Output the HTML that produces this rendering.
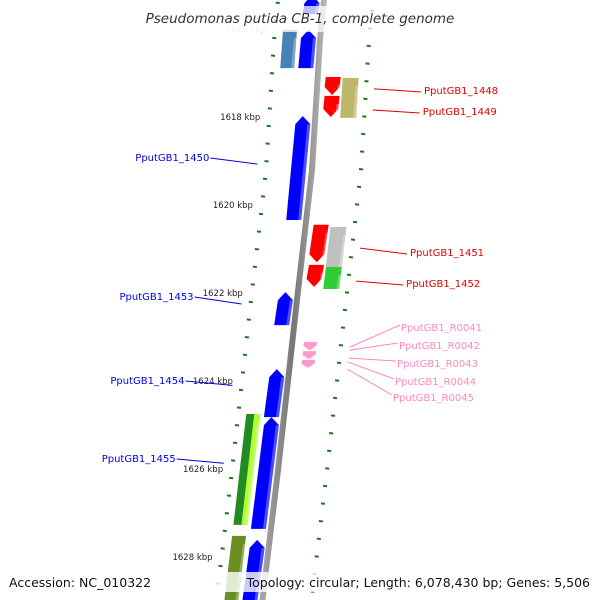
<!DOCTYPE html>
<html><head><meta charset="utf-8"><style>
html,body{margin:0;padding:0;background:#fff;}
svg{display:block;font-family:"DejaVu Sans","Liberation Sans",sans-serif;}
</style></head><body>
<svg id="map" width="600" height="600" viewBox="0 0 600 600">
<defs>
<linearGradient id="bb" x1="0" x2="1"><stop offset="0" stop-color="#aaa"/><stop offset="0.5" stop-color="#777"/><stop offset="1" stop-color="#bbb"/></linearGradient>
</defs>
<g id="ticks"></g>
<g id="genes"></g>
<g id="labels"></g>
<rect x="140" y="6" width="330" height="26" fill="#fff" opacity="0.75"/>
<text x="300" y="23" text-anchor="middle" font-size="13.5" font-style="italic" fill="#333">Pseudomonas putida CB-1, complete genome</text>
<rect x="0" y="572" width="600" height="20" fill="#fff" opacity="0.8"/>
<text x="9" y="587" font-size="12.5" fill="#111">Accession: NC_010322</text>
<text x="590" y="587" text-anchor="end" font-size="12.5" fill="#111">Topology: circular; Length: 6,078,430 bp; Genes: 5,506</text>
</svg>
<script>
const majorTicks = [1616, 1618, 1620, 1622, 1624, 1626, 1628];
const tickLabels = ["1616 kbp","1618 kbp","1620 kbp","1622 kbp","1624 kbp","1626 kbp","1628 kbp"];
const geneStart = [1615.23, 1616.02, 1616.02, 1617.09, 1617.52, 1617.11, 1617.98, 1620.45, 1620.5, 1621.36, 1621.41, 1621.98, 1623.11, 1623.32, 1623.52, 1623.73, 1624.82, 1624.75, 1624.75, 1627.52, 1627.61];
const geneEnd   = [1615.66, 1616.89, 1616.89, 1617.5, 1618.0, 1618.02, 1620.34, 1621.3, 1621.43, 1621.86, 1621.91, 1622.73, 1623.3, 1623.5, 1623.7, 1624.82, 1627.36, 1627.27, 1627.27, 1629.1, 1629.1];
const geneTrack = ["L1","L1","L2","R1","R1","R2","L1","R1","R2","R1","R2","L1","P","P","P","L1","L1","L2","L2b","L2","L1"];
const geneColor = ["#0000ff","#0000ff","#4682b4","#ff0000","#ff0000","#bdb76b","#0000ff","#ff0000","#c0c0c0","#ff0000","#32cd32","#0000ff","#ff99cc","#ff99cc","#ff99cc","#0000ff","#0000ff","#228b22","#adff2f","#6b8e23","#0000ff"];
const geneDir   = [1,1,0,-1,-1,0,1,-1,0,-1,0,1,-1,-1,-1,1,1,0,0,0,1];
const labelNames = ["PputGB1_1448","PputGB1_1449","PputGB1_1450","PputGB1_1451","PputGB1_1452","PputGB1_1453","PputGB1_R0041","PputGB1_R0042","PputGB1_R0043","PputGB1_R0044","PputGB1_R0045","PputGB1_1454","PputGB1_1455"];
const labelKbp = [1617.36, 1617.84, 1619.07, 1620.98, 1621.73, 1622.25, 1623.23, 1623.3, 1623.48, 1623.57, 1623.73, 1624.1, 1625.87];
const labelSide = ["R","R","L","R","R","L","P","P","P","P","P","L","L"];
const labelTextY = [91,112,158,253,284,297,328,346,364,382,398,381,459];

const NS='http://www.w3.org/2000/svg';
function y(k){return 29+(k-1616)*44;}
const BY=[-20,40,170,300,470,620], BX=[326,320,312,297,278,260];
function bx(yy){
  for(let i=0;i<BY.length-1;i++){ if(yy<=BY[i+1]||i===BY.length-2){const t=(yy-BY[i])/(BY[i+1]-BY[i]);return BX[i]+t*(BX[i+1]-BX[i]);} }
}
function mk(tag,attrs,parent){const e=document.createElementNS(NS,tag);for(const a in attrs)e.setAttribute(a,attrs[a]);parent.appendChild(e);return e;}
const tg=document.getElementById('ticks'),gg=document.getElementById('genes'),lg=document.getElementById('labels');

// backbone
let bl=[],br=[];
for(let yy=-10;yy<=610;yy+=10){bl.push(`${bx(yy)-3},${yy}`);br.unshift(`${bx(yy)+3},${yy}`);}
const bb=mk('polygon',{points:bl.concat(br).join(' '),fill:'url(#bb)'},gg);



// ticks
for(let k=1615;k<=1629.001;k+=0.4){
  const kk=Math.round(k*10)/10;
  const isMaj=Math.abs(kk/2-Math.round(kk/2))<1e-6;
  const yl=y(kk), yr=y(kk)+8;
  const xl=bx(yl)-46, xr=bx(yr)+49;
  const w=isMaj?8:4;
  const t1=mk('line',{x1:xl-w/2,y1:yl,x2:xl+w/2,y2:yl+0.5,stroke:'#1a7a1a','stroke-width':2},tg);
  
  
  const t2=mk('line',{x1:xr-w/2,y1:yr,x2:xr+w/2,y2:yr+0.5,stroke:'#1a7a1a','stroke-width':2},tg);
  
  
}
majorTicks.forEach((k,i)=>{
  const yy=y(k);
  const t=mk('text',{x:bx(yy)-55,y:yy+3,'text-anchor':'end','font-size':8.5,fill:k===1616?'#ccc':'#222'},tg);
  t.textContent=tickLabels[i];
  
  
});

// genes
const off={L1:[-20,-5],L2:[-38,-24],L2b:[-30,-24],R1:[8,23],R2:[25,41],P:[12,25]};
geneStart.forEach((s,i)=>{
  const y1=y(s),y2=y(geneEnd[i]);
  const [a,b]=off[geneTrack[i]];
  const x1a=bx(y1)+a,x1b=bx(y1)+b,x2a=bx(y2)+a,x2b=bx(y2)+b;
  let pts;
  const h=Math.min(8,(y2-y1)/2);
  if(geneDir[i]===1){
    pts=`${(x1a+x1b)/2},${y1} ${x1b},${y1+h} ${x2b},${y2} ${x2a},${y2} ${x1a},${y1+h}`;
  }else if(geneDir[i]===-1){
    pts=`${x1a},${y1} ${x1b},${y1} ${x2b},${y2-h} ${(x2a+x2b)/2},${y2} ${x2a},${y2-h}`;
  }else{
    pts=`${x1a},${y1} ${x1b},${y1} ${x2b},${y2} ${x2a},${y2}`;
  }
  const p=mk('polygon',{points:pts,fill:geneColor[i]},gg);
  
  
  const sh=mk('polygon',{points:`${x1b-3},${y1+h} ${x1b},${y1+h} ${x2b},${y2} ${x2b-3},${y2}`,fill:'#fff',opacity:0.3},gg);
  
  
});

// labels
labelNames.forEach((n,i)=>{
  const yy=y(labelKbp[i]);const ty=labelTextY[i];
  let x1,y1,x2,y2,tx,anchor,col;
  if(labelSide[i]==='R'){col='#e00000';x1=bx(yy)+57;y1=yy;x2=x1+47;y2=ty+1;tx=x2+3;anchor='start';}
  else if(labelSide[i]==='P'){col='#ff88bb';x1=bx(yy)+58;y1=yy;x2=400-2*(i-6);y2=ty-3;tx=x2+1;anchor='start';}
  else{col='#0000e0';x2=bx(yy)-55;y2=yy;x1=x2-47;y1=ty;tx=x1-1;anchor='end';}
  const ln=mk('line',{x1:x1,y1:y1,x2:x2,y2:y2,stroke:col,'stroke-width':1},lg);
  
  
  const t=mk('text',{x:tx,y:ty+3,'text-anchor':anchor,'font-size':10,fill:col},lg);
  t.textContent=n;
  
  
});
</script>
</body></html>
